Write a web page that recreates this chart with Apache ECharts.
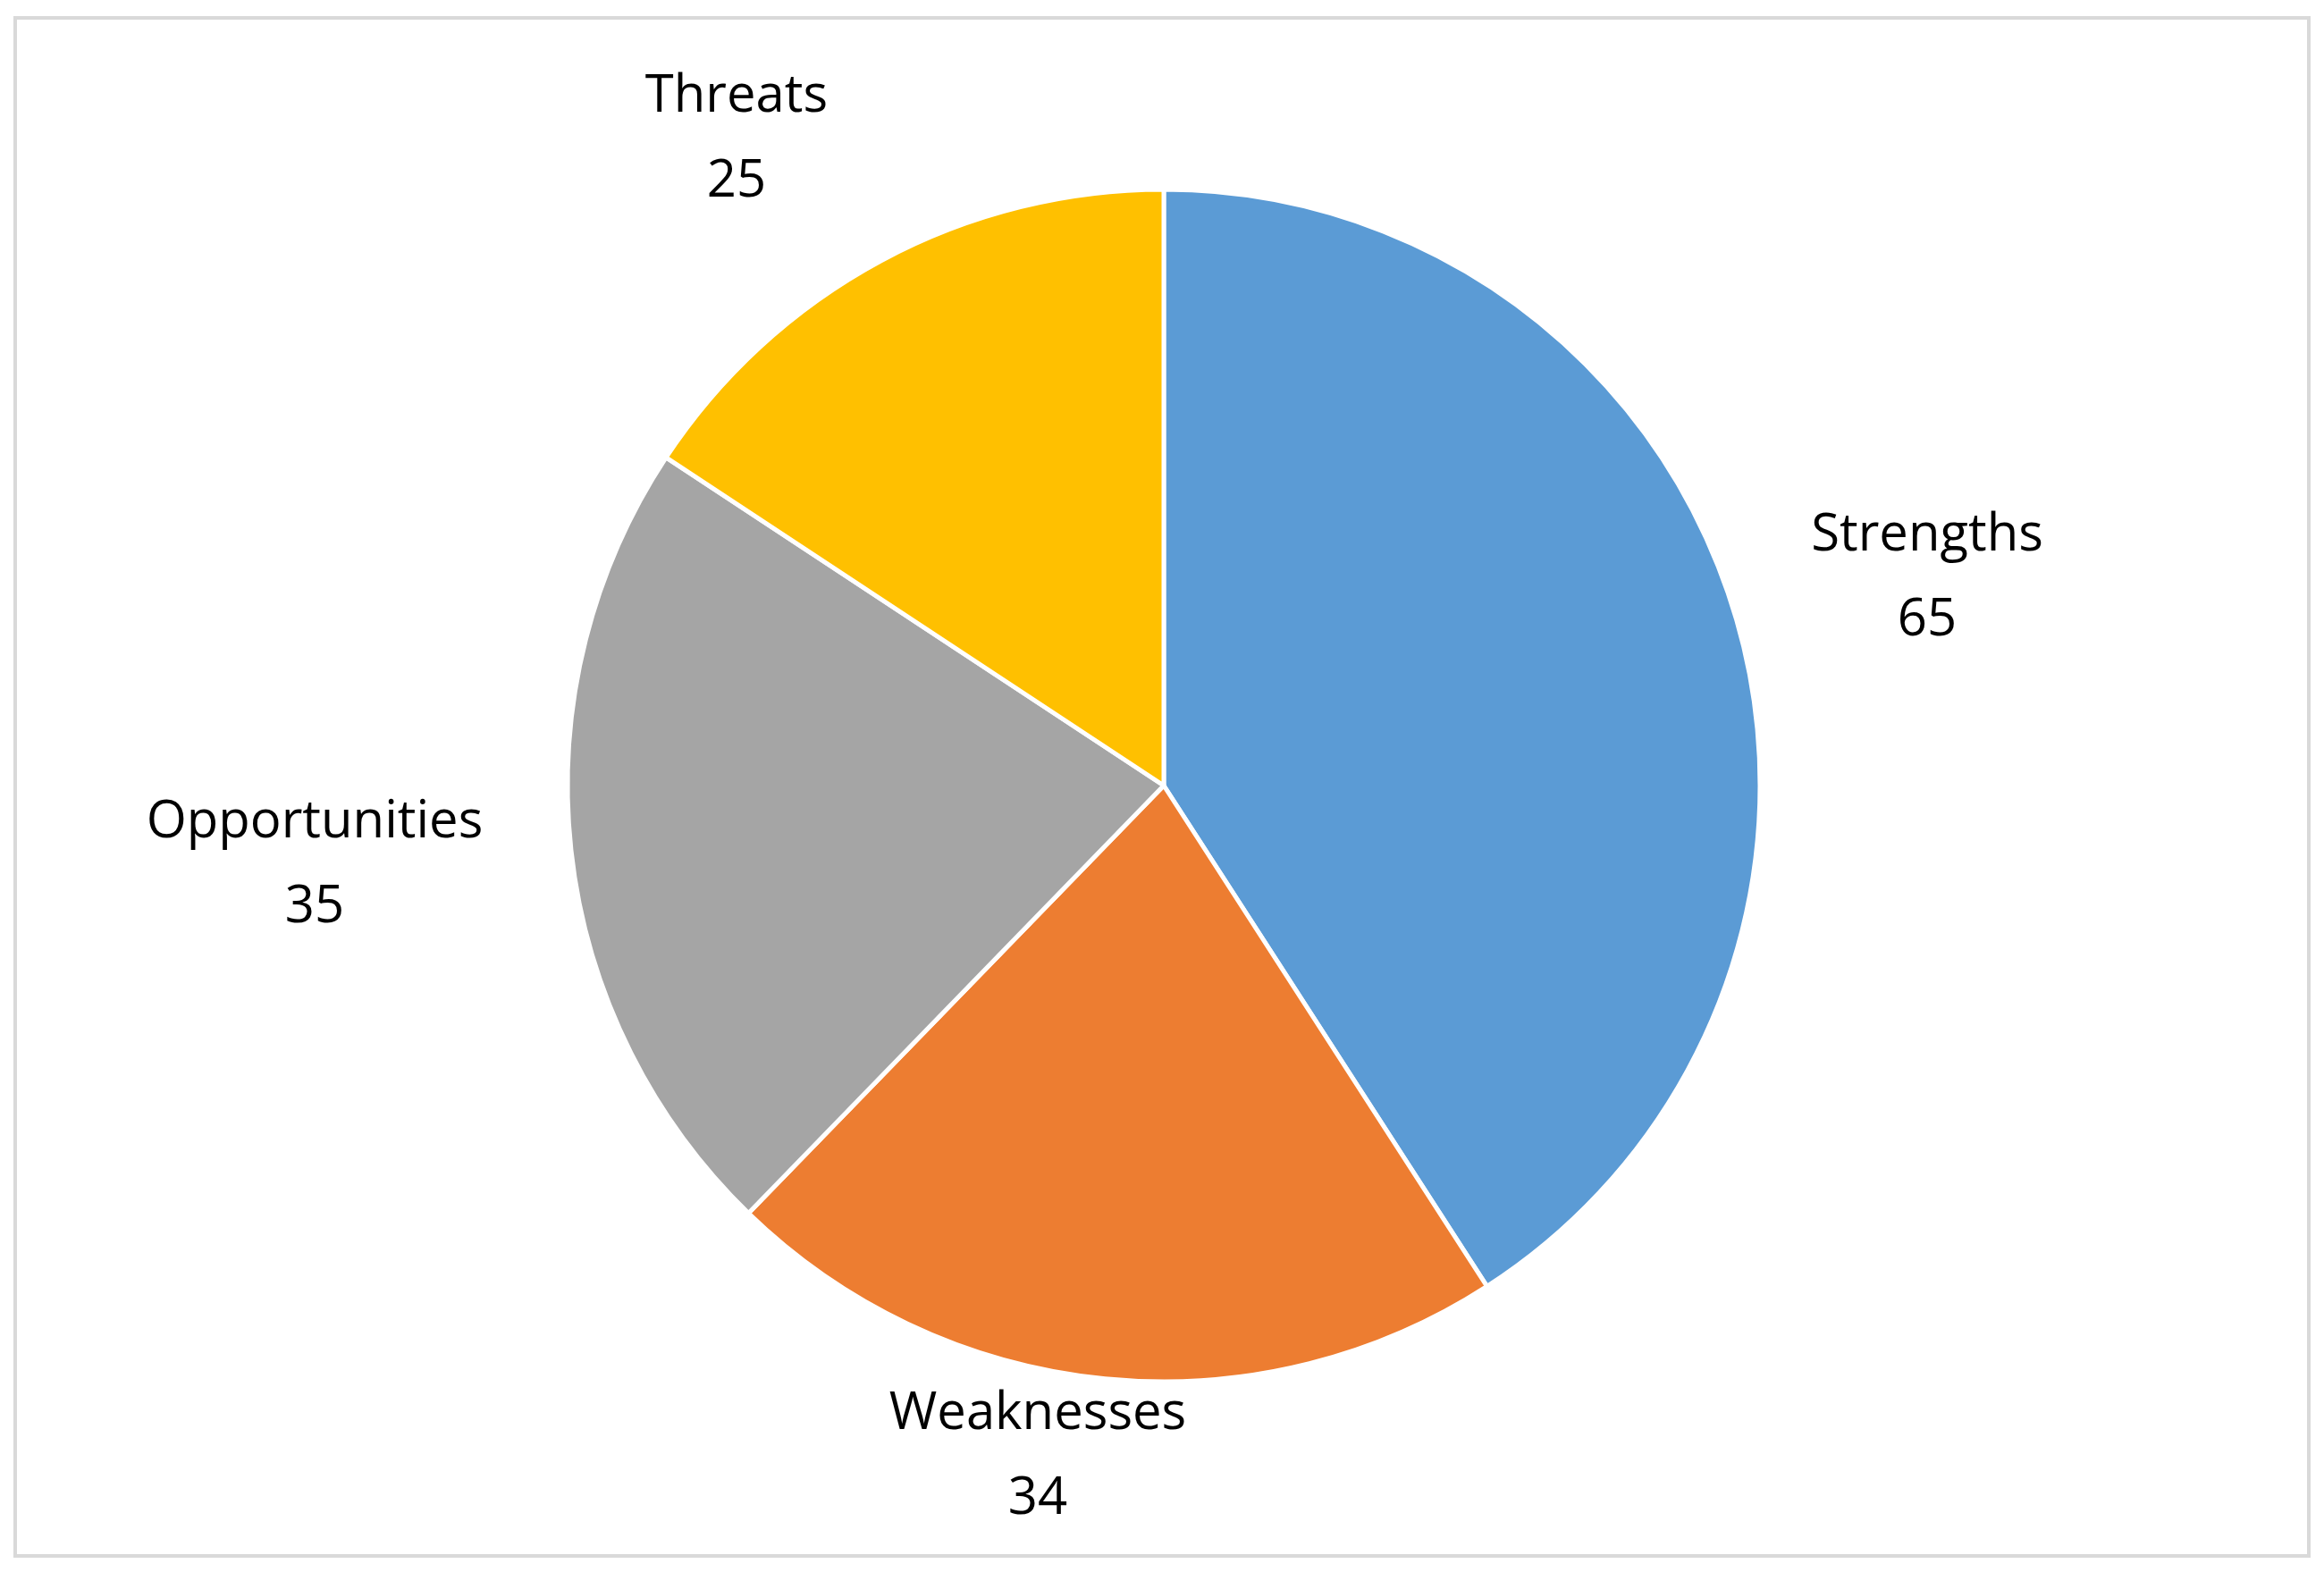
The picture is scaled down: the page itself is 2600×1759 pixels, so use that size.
<!DOCTYPE html>
<html><head><meta charset="utf-8">
<script src="https://cdn.jsdelivr.net/npm/echarts@6/dist/echarts.min.js"></script>
<style>html,body{margin:0;padding:0;background:#fff}#c{width:2600px;height:1759px}</style>
</head><body><div id="c"></div>
<script>
const categories = ['Strengths','Weaknesses','Opportunities','Threats'];
const values = [65,34,35,25];
const colors = ['#5B9BD5','#ED7D31','#A5A5A5','#FFC000'];
const labelPos = [[2156,647],[1161,1630],[352,968],[824,156]];
const chart = echarts.init(document.getElementById('c'));
chart.setOption({
  animation:false,
  graphic:[{type:'rect',shape:{x:17,y:20,width:2566,height:1721},style:{fill:'none',stroke:'#D9D9D9',lineWidth:4}}],
  series:[{
    type:'pie', center:[1302,879], radius:667, startAngle:90, clockwise:true,
    data: categories.map((n,i)=>({name:n,value:values[i],itemStyle:{color:colors[i]}})),
    itemStyle:{borderColor:'#fff',borderWidth:5},
    label:{show:true,position:'outside',formatter:'{b}\n{c}',fontFamily:'Open Sans',fontSize:58,lineHeight:95,color:'#000',align:'center'},
    labelLine:{show:false},
    labelLayout:function(p){const q=labelPos[p.dataIndex];return {x:q[0],y:q[1],align:'center',verticalAlign:'middle'};}
  }]
});
</script></body></html>
